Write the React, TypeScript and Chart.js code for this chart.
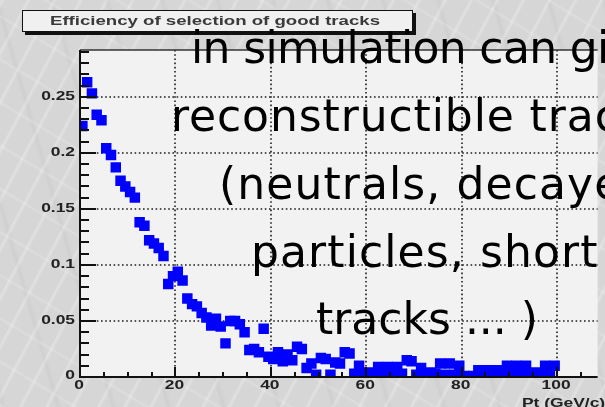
import React, { useEffect, useRef } from 'react';
import { Chart, registerables } from 'chart.js';

Chart.register(...registerables);

// Histogram: efficiency per 1 GeV/c bin of Pt, bins 0..100
const binWidth = 1;
const efficiency = [
  0.224, 0.263, 0.253, 0.234, 0.229, 0.204, 0.198, 0.187, 0.175, 0.170,
  0.165, 0.160, 0.138, 0.135, 0.122, 0.119, 0.115, 0.108, 0.083, 0.090,
  0.094, 0.086, 0.070, 0.065, 0.063, 0.057, 0.053, 0.046, 0.052, 0.045,
  0.030, 0.050, 0.050, 0.047, 0.040, 0.024, 0.025, 0.022, 0.043, 0.018,
  0.016, 0.022, 0.014, 0.020, 0.015, 0.027, 0.025, 0.008, 0.012, 0.002,
  0.017, 0.016, 0.002, 0.013, 0.012, 0.022, 0.021, 0.003, 0.010, 0.002,
  0.004, 0.001, 0.009, 0.002, 0.009, 0.002, 0.009, 0.003, 0.015, 0.014,
  0.002, 0.008, 0.002, 0.004, 0.003, 0.012, 0.002, 0.012, 0.002, 0.010,
  0.001, 0.000, 0.001, 0.006, 0.001, 0.006, 0.002, 0.006, 0.002, 0.010,
  0.002, 0.010, 0.002, 0.010, 0.001, 0.004, 0.002, 0.010, 0.002, 0.010,
];

const yTicks = [0, 0.05, 0.1, 0.15, 0.2, 0.25];
const yTickLabels = ['0', '0.05', '0.1', '0.15', '0.2', '0.25'];
const xTicks = [0, 20, 40, 60, 80, 100];
const xTickLabels = ['0', '20', '40', '60', '80', '100'];

const histTitle = 'Efficiency of selection of good tracks';
const xAxisTitle = 'Pt (GeV/c)';

const slideLines = [
  'in simulation can give',
  'reconstructible tracks',
  '(neutrals, decayed',
  'particles, short',
  'tracks ... )',
];
const slideLineLeft = [191, 171, 219, 251, 316];
const slideLineTop = [26, 94, 162, 230, 297];
const slideLineSpacing = [-0.65, 0.9, 1.1, 1.1, 0];

const X_MAX = 108.5;
const Y_MAX = 0.2917;
const ROOT_FONT = 'bold 12px "Liberation Sans", Arial, sans-serif';
const STRETCH = 1.45;

function stretchedText(
  ctx: CanvasRenderingContext2D,
  text: string,
  x: number,
  y: number,
  align: 'left' | 'right' | 'center',
  sx: number
) {
  const w = ctx.measureText(text).width * sx;
  const left = align === 'left' ? x : align === 'right' ? x - w : x - w / 2;
  ctx.save();
  ctx.translate(left, y);
  ctx.scale(sx, 1);
  ctx.textAlign = 'left';
  ctx.fillText(text, 0, 0);
  ctx.restore();
}

const rootFrame = {
  id: 'rootFrame',
  beforeDatasetsDraw(chart: any) {
    const { ctx, chartArea: a } = chart;
    const xs = chart.scales.x;
    const ys = chart.scales.y;
    ctx.save();
    ctx.fillStyle = '#f2f2f2';
    ctx.fillRect(a.left, a.top, a.right - a.left, a.bottom - a.top);

    // dotted grid at the labelled ticks
    ctx.strokeStyle = '#1c1c1c';
    ctx.lineWidth = 1.6;
    ctx.setLineDash([1.6, 2.6]);
    for (const v of yTicks) {
      if (v <= 0) continue;
      const py = Math.round(ys.getPixelForValue(v));
      ctx.beginPath();
      ctx.moveTo(a.left, py);
      ctx.lineTo(a.right, py);
      ctx.stroke();
    }
    for (const v of xTicks) {
      if (v <= 0) continue;
      const px = Math.round(xs.getPixelForValue(v));
      ctx.beginPath();
      ctx.moveTo(px, a.top);
      ctx.lineTo(px, a.bottom);
      ctx.stroke();
    }
    ctx.restore();
  },
  afterDatasetsDraw(chart: any) {
    const { ctx, chartArea: a } = chart;
    const xs = chart.scales.x;
    const ys = chart.scales.y;
    ctx.save();

    // frame top and axes
    ctx.strokeStyle = '#333';
    ctx.lineWidth = 1.5;
    ctx.beginPath();
    ctx.moveTo(a.left, a.top);
    ctx.lineTo(a.right, a.top);
    ctx.stroke();

    ctx.strokeStyle = '#111';
    ctx.lineWidth = 2;
    ctx.beginPath();
    ctx.moveTo(a.left, a.top);
    ctx.lineTo(a.left, a.bottom);
    ctx.lineTo(a.right, a.bottom);
    ctx.stroke();

    // y ticks (inside the frame)
    for (let k = 0; k <= 29; k++) {
      const v = k * 0.01;
      const py = Math.round(ys.getPixelForValue(v));
      const len = k % 5 === 0 ? 16 : 9;
      ctx.beginPath();
      ctx.moveTo(a.left, py);
      ctx.lineTo(a.left + len, py);
      ctx.stroke();
    }
    // x ticks
    for (let v = 0; v <= X_MAX; v += 5) {
      const px = Math.round(xs.getPixelForValue(v));
      const len = v % 20 === 0 ? 10 : 5;
      ctx.beginPath();
      ctx.moveTo(px, a.bottom);
      ctx.lineTo(px, a.bottom - len);
      ctx.stroke();
    }

    // tick labels
    ctx.font = ROOT_FONT;
    ctx.fillStyle = '#222';
    ctx.textBaseline = 'middle';
    yTicks.forEach((v, i) => {
      const py = ys.getPixelForValue(v);
      stretchedText(ctx, yTickLabels[i], a.left - 5, py - (v === 0 ? 1 : 0), 'right', STRETCH);
    });
    xTicks.forEach((v, i) => {
      const px = xs.getPixelForValue(v);
      stretchedText(ctx, xTickLabels[i], px - 1, a.bottom + 9, 'center', STRETCH);
    });
    stretchedText(ctx, xAxisTitle, 522, a.bottom + 27, 'left', STRETCH);

    // title box with drop shadow
    const bx = 22, by = 10, bw = 391, bh = 22;
    ctx.fillStyle = '#111';
    ctx.fillRect(bx + 3, by + bh, bw, 3);
    ctx.fillRect(bx + bw, by + 3, 3, bh);
    ctx.fillStyle = '#f0f0f0';
    ctx.fillRect(bx, by, bw, bh);
    ctx.strokeStyle = '#111';
    ctx.lineWidth = 1;
    ctx.strokeRect(bx + 0.5, by + 0.5, bw - 1, bh - 1);
    ctx.font = 'bold 13px "Liberation Sans", Arial, sans-serif';
    ctx.fillStyle = '#3a3a3a';
    const tw = ctx.measureText(histTitle).width;
    stretchedText(ctx, histTitle, 50, by + bh / 2 + 0.5, 'left', 330 / tw);

    ctx.restore();
  },
};

const marble =
  'repeating-linear-gradient(118deg, rgba(255,255,255,0) 0px, rgba(255,255,255,0.28) 2px, rgba(255,255,255,0) 5px, rgba(255,255,255,0) 23px),' +
  'repeating-linear-gradient(31deg, rgba(255,255,255,0) 0px, rgba(255,255,255,0.18) 2px, rgba(255,255,255,0) 4px, rgba(255,255,255,0) 37px),' +
  'repeating-linear-gradient(74deg, rgba(160,160,160,0) 0px, rgba(160,160,160,0.12) 3px, rgba(160,160,160,0) 7px, rgba(160,160,160,0) 53px),' +
  '#d6d6d6';

export default function App() {
  const canvasRef = useRef<HTMLCanvasElement | null>(null);

  useEffect(() => {
    const canvas = canvasRef.current;
    if (!canvas) return;
    const chart = new Chart(canvas, {
      type: 'scatter',
      data: {
        datasets: [
          {
            label: histTitle,
            data: efficiency.map((v, i) => ({ x: (i + 0.5) * binWidth, y: v })),
            pointStyle: 'rect',
            pointRadius: 7.4,
            pointHoverRadius: 7.4,
            backgroundColor: '#0000ff',
            borderWidth: 0,
            clip: 0,
          } as any,
        ],
      },
      options: {
        responsive: false,
        animation: false,
        devicePixelRatio: 1,
        events: [],
        layout: { padding: { left: 80, top: 50, right: 0, bottom: 30 } },
        scales: {
          x: { type: 'linear', min: 0, max: X_MAX, display: false },
          y: { type: 'linear', min: 0, max: Y_MAX, display: false },
        },
        plugins: {
          legend: { display: false },
          tooltip: { enabled: false },
          title: { display: false },
        },
      },
      plugins: [rootFrame],
    });
    return () => chart.destroy();
  }, []);

  return (
    <div
      style={{
        position: 'fixed',
        left: 0,
        top: 0,
        width: 605,
        height: 407,
        overflow: 'hidden',
        background: marble,
      }}
    >
      <canvas
        ref={canvasRef}
        width={605}
        height={407}
        style={{ position: 'absolute', left: 0, top: 0, width: 605, height: 407, display: 'block' }}
      />
      {slideLines.map((t, i) => (
        <div
          key={i}
          style={{
            position: 'absolute',
            left: slideLineLeft[i],
            top: slideLineTop[i],
            whiteSpace: 'nowrap',
            fontFamily: '"DejaVu Sans", sans-serif',
            fontSize: 44,
            lineHeight: '44px',
            letterSpacing: slideLineSpacing[i],
            color: '#000',
          }}
        >
          {t}
        </div>
      ))}
    </div>
  );
}
